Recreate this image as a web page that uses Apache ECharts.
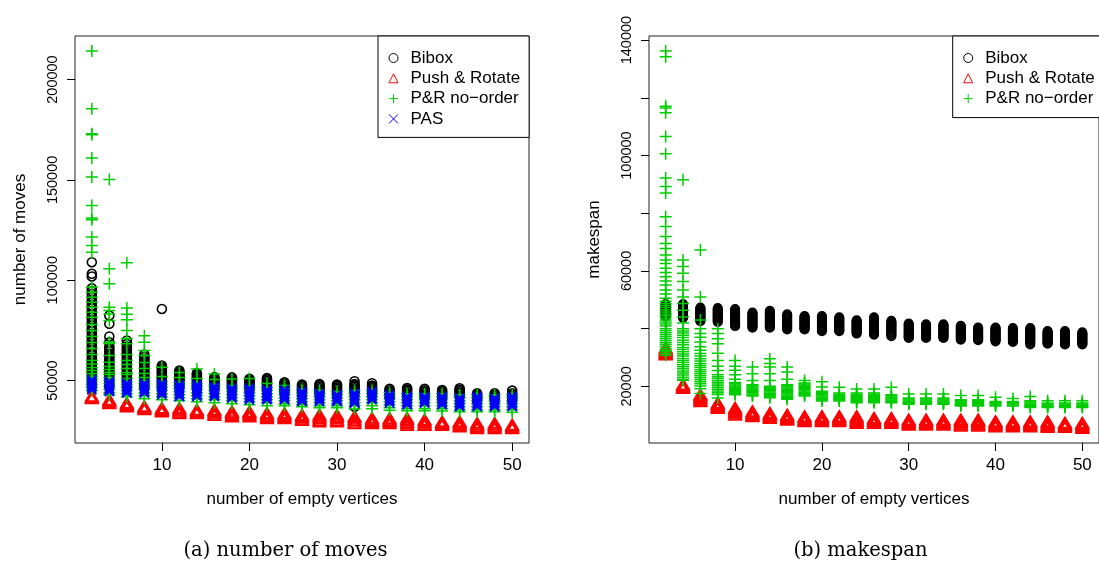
<!DOCTYPE html>
<html>
<head>
<meta charset="utf-8">
<script src="https://cdn.jsdelivr.net/npm/echarts@6/dist/echarts.min.js"></script>
<style>
html,body{margin:0;padding:0;background:#fff;}
#chart{width:1099px;height:563px;}
</style>
</head>
<body>
<div id="chart"></div>
<script>
// ---------- data ----------
const xs = [2,4,6,8,10,12,14,16,18,20,22,24,26,28,30,32,34,36,38,40,42,44,46,48,50];
const xTicks = [10,20,30,40,50];
const movesTicks = [50000,100000,150000,200000];
const spanTicks = [20000,40000,60000,80000,100000,120000,140000];
const spanLabels = [20000,60000,100000,140000];
const seriesNames = ['Bibox','Push & Rotate','P&R no\u2212order','PAS'];

// (a) number of moves
const movesBibox = [
 [109000,103200,101900,96000,94500,93200,91800,90200,88900,87400,86000,84500,83100,81600,80200,78800,77400,76000,74600,73300,71900,70500,69200,67900,66600,65300,64000,62800,61500,60300,59100,57900,56700,55500,54300,53100,51900,50700,49500,48300,47100],
 [82400,78300,72000,69100,67000,65800,64600,63500,62400,61300,60200,59100,58000,56900,55800,54700,53600,52500,51400,50300,49200,48100,47000],
 [70000,68200,67000,65900,64800,63700,62600,61500,60400,59300,58200,57100,56000,54900,53800,52700,51600,50500,49400,48300,47200],
 [63000,61900,60800,59700,58600,57500,56400,55300,54200,53100,52000,50900,49800,48700,47600,46500],
 [85700,57500,56700,55900,55100,54300,53500,52700,51900,51100,50300,49500,48700,47900,47100,46300],
 [55000,54300,53600,52900,52200,51500,50800,50100,49400,48700,48000,47300,46600],
 [53700,53000,52300,51600,50900,50200,49500,48800,48100,47400,46700,46000],
 [51700,51000,50300,49600,48900,48200,47500,46800,46100],
 [51600,50900,50200,49500,48800,48100,47400,46700,46000],
 [50900,50200,49500,48800,48100,47400,46700,46000,45300],
 [51300,50600,49900,49200,48500,47800,47100,46400,45700],
 [49200,48500,47800,47100,46400,45700,45000,44300],
 [48000,47300,46600,45900,45200,44500,43800],
 [48300,47600,46900,46200,45500,44800,44100,43400],
 [48000,47300,46600,45900,45200,44500,43800,43100],
 [49700,48300,47600,46900,46200,45500,44800,44100,43400,37000],
 [48700,47500,46800,46100,45400,44700,44000,43300],
 [45900,45200,44500,43800,43100,42400,41700],
 [46300,45600,44900,44200,43500,42800,42100],
 [45900,45200,44500,43800,43100,42400,41700],
 [45300,44600,43900,43200,42500,41800,41100],
 [46200,45400,44700,44000,43300,42600,41900],
 [43700,43000,42300,41600,40900,40200],
 [43700,43000,42300,41600,40900,40200],
 [45000,43700,43000,42300,41600,40900,40200]
];
const movesPushRotate = [
 [42300,41900,41500,41100],
 [40600,40200,39800,39400,39000,38650],
 [38950,38550,38150,37750,37350,36950],
 [37300,36900,36500,36100,35600],
 [36450,36050,35650,35250,34850,34450],
 [36450,35900,35350,34800,34200,33650],
 [35600,35200,34800,34400,34000,33650],
 [35600,35050,34500,33950,33350,32800],
 [34800,34250,33700,33150,32550,32000],
 [34750,34200,33650,33100,32500,31950],
 [33950,33400,32850,32300,31700,31150],
 [33900,33350,32800,32250,31650,31100],
 [33150,32600,32050,31450,30900,30300],
 [33150,32450,31750,31000,30250,29500],
 [33100,32400,31700,30950,30200,29500],
 [32300,31600,30850,30150,29400,28650],
 [31450,30900,30300,29750,29200,28650],
 [31400,30850,30250,29700,29150,28600],
 [31450,30750,30000,29300,28550,27800],
 [30650,30100,29500,28950,28400,27800],
 [29800,29400,29000,28600,28200,27800],
 [29800,29250,28650,28100,27550,27000],
 [28950,28400,27850,27250,26700,26150],
 [28950,28400,27850,27250,26700,26200],
 [28150,27750,27350,26950,26550,26150]
];
const movesNoOrder = [
 [214200,185500,173000,172500,160900,151400,137300,131000,130100,121500,117300,114000,96500,94000,91500,89000,86500,84000,81500,78000,75000,72000,69000,66000,63000,60000,58300,56500,55000,53500,52200,51000,49500,48000,46500,45000],
 [150200,105700,98200,86600,84900,83200,79900,69100,68500,62500,59100,57000,55500,54000,53000,51500,50000,48500,47000,45500,44000,43000],
 [108700,86200,83000,80300,74900,71000,68300,63000,60000,58000,56000,54000,53000,51000,49500,48000,46500,45000,43500,42000],
 [72400,69100,65000,62500,59000,56000,53500,51500,50000,48500,47000,45500,44000,42500,41000],
 [56600,52000,49500,48000,46500,45000,43500,42000,40500],
 [54000,51500,49000,47500,46000,44500,43000,41500,40000],
 [55800,51000,48500,47000,45500,44000,42500,41000,39500],
 [53300,50500,48000,46500,45000,43500,42000,40500,39000],
 [50800,47500,46000,44500,43000,41500,40000,38500],
 [51000,47000,45500,44000,42500,41000,39500,38000],
 [48500,46500,45000,43500,42000,40500,39000,37500],
 [47500,46000,44500,43000,41500,40000,38500,37500],
 [45500,44000,42500,41000,39500,38000,37000],
 [45000,43500,42000,40500,39000,37500,36500],
 [44500,43000,41500,40000,38500,37500,36500],
 [45000,43500,42000,40500,39000,37500,35900],
 [45000,43500,42000,40500,39000,37500,36000],
 [44000,42500,41000,39500,38000,36500,35200],
 [43500,42000,40500,39000,37500,36000,35000],
 [43500,42000,40500,39000,37500,36000,35000],
 [43500,42000,40500,39000,37500,36000,34800],
 [43000,41500,40000,38500,37000,35500,34500],
 [43000,41500,40000,38500,37000,35500,34500],
 [43000,41500,40000,38500,37000,35500,34500],
 [43000,41500,40000,38500,37000,35500,34200]
];
const movesPAS = [
 [50500,49900,49300,48700,48100,47500,46900,46300,45800,45300],
 [49700,49100,48500,47900,47300,46700,46100,45500,45000,44500],
 [48800,48200,47600,47000,46400,45800,45200,44700,44200,43700],
 [48800,48200,47600,47000,46400,45800,45200,44700,44200,43700],
 [48800,48200,47600,47000,46400,45800,45200,44600,44000,43400,42800],
 [48000,47400,46800,46200,45600,45000,44400,43800,43200,42600,42000],
 [48000,47400,46800,46200,45600,45000,44400,43800,43200,42600,42000],
 [47200,46600,46000,45400,44800,44200,43600,43000,42500,42000],
 [46300,45700,45100,44500,43900,43300,42700,42200,41700,41200],
 [46300,45700,45100,44500,43900,43300,42700,42100,41500,40900,40400],
 [45500,44900,44300,43700,43100,42500,41900,41400,40900,40400],
 [45500,44900,44300,43700,43100,42500,41900,41400,40900,40400],
 [44700,44100,43500,42900,42300,41700,41100,40500,40000,39500],
 [43800,43200,42600,42000,41400,40900,40400,39900,39500],
 [43000,42400,41800,41200,40700,40200,39800,39500],
 [43800,43200,42600,42000,41400,40800,40200,39700,39200,38700],
 [44700,44100,43500,42900,42300,41700,41100,40700,40400],
 [43000,42400,41800,41200,40600,40000,39500,39100,38700],
 [42200,41600,41000,40400,39800,39200,38700,38300,37900],
 [42200,41600,41000,40400,39800,39300,38900,38700],
 [42200,41600,41000,40400,39800,39200,38700,38300,37900],
 [41400,40800,40200,39600,39000,38400,37900,37400,37000],
 [42200,41600,41000,40400,39800,39200,38600,38000,37500,37000],
 [41400,40800,40200,39600,39000,38400,37900,37400,37000],
 [42200,41600,41000,40400,39800,39200,38600,38000,37500,37000]
];

// (b) makespan
const spanBibox = [
 [48500,48200,47900,47600,47300,47000,46700,46400,46100,45800,45500,45200,44900,44600,44300],
 [48500,48200,47900,47600,47300,47000,46700,46400,46100,45800,45500,45200,44900,44600,44300,44000,43750],
 [47300,47000,46700,46400,46100,45800,45500,45200,44900,44600,44300,44000,43700,43400,43100,42850,42600],
 [47100,46800,46500,46200,45900,45600,45300,45000,44700,44400,44100,43800,43500,43200,42900,42600,42300],
 [46800,46450,46100,45750,45400,45050,44700,44350,44000,43650,43300,42950,42600,42250,41900,41550,41200,40900],
 [45600,45250,44900,44550,44200,43850,43500,43150,42800,42450,42100,41750,41400,41050,40700,40300],
 [46200,45850,45500,45150,44800,44450,44100,43750,43400,43050,42700,42350,42000,41650,41300,40950,40600,40300],
 [45000,44650,44300,43950,43600,43250,42900,42550,42200,41850,41500,41150,40800,40450,40100,39700],
 [44400,44100,43800,43500,43200,42900,42600,42300,42000,41700,41400,41100,40800,40500,40200,39950,39700],
 [44400,44050,43700,43350,43000,42650,42300,41950,41600,41250,40900,40550,40200,39850,39500,39100],
 [43900,43600,43300,43000,42700,42400,42100,41800,41500,41200,40900,40600,40300,40000,39700,39400,39100],
 [42900,42600,42300,42000,41700,41400,41100,40800,40500,40200,39900,39600,39300,39000,38650,38300],
 [43900,43500,43150,42800,42450,42100,41750,41400,41050,40700,40350,40000,39650,39300,38950,38600,38250,37950],
 [42700,42350,42000,41650,41300,40950,40600,40250,39900,39550,39200,38850,38500,38150,37800,37400],
 [41800,41500,41150,40800,40450,40100,39750,39400,39050,38700,38350,38000,37650,37300,37000,36800],
 [41500,41200,40900,40600,40300,40000,39700,39400,39100,38800,38500,38200,37900,37600,37300,37000,36800],
 [41500,41200,40900,40600,40300,40000,39700,39400,39100,38800,38500,38200,37900,37600,37300,37000,36800],
 [41000,40700,40400,40100,39800,39500,39200,38900,38600,38300,38000,37700,37400,37100,36800,36500,36200],
 [40400,40100,39800,39500,39200,38900,38600,38300,38000,37700,37400,37100,36800,36500,36250,36000],
 [40400,40100,39800,39500,39200,38900,38600,38300,38000,37700,37400,37100,36800,36500,36200,35900,35600],
 [40200,39900,39600,39300,39000,38700,38400,38100,37800,37500,37200,36900,36600,36300,36000,35700,35400],
 [40200,39900,39600,39300,39000,38700,38400,38100,37800,37500,37200,36900,36600,36300,36000,35700,35400,35000,34500],
 [39200,38900,38600,38300,38000,37700,37400,37100,36800,36500,36200,35900,35600,35300,35050,34800],
 [39200,38900,38600,38300,38000,37700,37400,37100,36800,36500,36200,35900,35600,35300,35000,34750,34500],
 [38700,38400,38100,37800,37500,37200,36900,36600,36300,36000,35700,35400,35100,34800,34500]
];
const spanPushRotate = [
 [33500,33150,32800,32500,32150,31800,31450,31150,30950],
 [20750,20500,20250,20000,19800,19550,19350],
 [17250,16900,16550,16200,15850,15500,15100,14750],
 [14350,14100,13800,13500,13250,12950,12700,12450],
 [12650,12300,11950,11600,11200,10850,10450,10100],
 [11450,11200,10900,10650,10350,10100,9800,9550],
 [10900,10600,10300,10050,9750,9500,9200,8950],
 [10300,10000,9700,9450,9150,8900,8600,8350],
 [9750,9450,9200,8900,8650,8350,8100,7800],
 [9750,9450,9200,8900,8650,8350,8100,7800],
 [9750,9450,9200,8900,8650,8350,8100,7800],
 [9750,9400,9000,8650,8300,7950,7550,7200],
 [9150,8850,8600,8300,8050,7750,7500,7200],
 [9150,8850,8600,8300,8050,7750,7500,7200],
 [8600,8300,8050,7750,7500,7200,6950,6650],
 [8600,8300,8050,7750,7500,7200,6950,6650],
 [8600,8300,8050,7750,7500,7200,6950,6650],
 [8600,8250,7950,7600,7300,6950,6650,6300],
 [8600,8250,7950,7600,7300,6950,6650,6300],
 [8000,7700,7450,7150,6900,6600,6350,6050],
 [8000,7700,7450,7150,6900,6600,6350,6050],
 [8000,7700,7450,7150,6900,6600,6350,6050],
 [8000,7700,7400,7050,6750,6450,6150,5850],
 [7450,7200,7000,6750,6550,6300,6100,5850],
 [7450,7150,6900,6600,6350,6050,5800,5500]
];
const spanNoOrder = [
 [136200,134200,117100,116500,114800,106600,100600,92200,89300,87000,78800,75400,71900,69500,67800,65500,63800,62600,60900,59500,58000,56500,55100,53400,52000,50500,49500,48700,48000,47300,46500,45800,45100,44500,43700,43000,42300,41600,40900,40000,39300,38600,37900,37200,36500,35800,35100,34500,33800,33100,32500,32000,31400,30800],
 [91600,63800,61500,59200,56300,53400,51000,48700,46400,44000,42000,40000,39200,38500,37700,36900,36000,35200,34400,33500,32800,32000,31200,30500,29700,29000,28300,27500,26800,26100,25300,24600,23900,23200,22500,22100],
 [67300,51000,43000,40000,38300,37000,35400,33700,32500,31400,30500,29600,28800,27900,27200,26500,25800,25100,24400,23700,23000,22300,21600,20900,20100,19200,17500],
 [40000,38300,36500,34800,31500,29000,27000,25500,24000,23300,22700,22000,21400,20800,20200,19600,19000,18400,17800,17200,16000],
 [29000,27000,25600,24000,22500,21300,20900,20500,20100,19700,19300,18900,18500,18100,17750,17450,17100],
 [26700,24400,22000,20600,20200,19800,19400,19000,18600,18200,17800,17400,17000,16700],
 [29600,27900,26700,24400,22000,20000,19650,19250,18850,18450,18050,17650,17250,16850,16400,16100],
 [26700,25000,22500,20600,20200,19800,19400,19000,18600,18200,17800,17400,17000,16600,16200,15800,15500],
 [22000,21200,20800,20400,20000,19600,19200,18800,18400,18000,17600,17300,17000,16700],
 [21600,19800,18300,17900,17500,17100,16700,16300,15900,15550,15250,14950],
 [19700,17700,17350,16950,16550,16200,15850,15550,15250,14950],
 [19100,17700,17350,16950,16550,16150,15750,15400,15050,14650,14350],
 [19100,17700,17350,16950,16550,16150,15750,15400,15050,14650,14350],
 [19700,17100,16750,16350,15950,15600,15250,14950,14650,14350],
 [17350,15950,15600,15250,14900,14600,14350,14100,13800],
 [17350,15950,15600,15250,14900,14600,14350,14100,13800],
 [17350,15950,15600,15250,14900,14600,14350,14100,13800],
 [16800,15350,15000,14650,14300,14000,13750,13500,13200],
 [16800,15350,15000,14650,14300,14000,13750,13500,13200],
 [16200,14800,14450,14150,13850,13500,13200],
 [15800,14800,14450,14150,13850,13500,13200],
 [16500,15000,14600,14200,13800,13400,12950,12650],
 [15000,14200,13850,13550,13250,12950,12650],
 [15000,14200,13850,13550,13250,12950,12650],
 [15000,14200,13850,13550,13250,12950,12650]
];

// ---------- chart ----------
function pts(cols){ const out=[]; cols.forEach((col,i)=>col.forEach(v=>out.push([xs[i],v]))); return out; }

const SANS = 'Liberation Sans';
const PLUS = 'path://M0 5L10 5M5 0L5 10';
const CROSS = 'path://M0 0L10 10M10 0L0 10';
const COL = {bibox:'#000000', pr:'#ff0000', no:'#00cd00', pas:'#0000ff'};
const CLEAR = 'rgba(0,0,0,0)';

function sc(name, data, xi, symbol, size, color, lw){
  return {type:'scatter', name, data: pts(data), xAxisIndex:xi, yAxisIndex:xi,
    symbol, symbolSize:size, large:false, silent:true, animation:false,
    itemStyle:{color:CLEAR, borderColor:color, borderWidth:lw, opacity:1},
    emphasis:{disabled:true}};
}

function xAx(gi){
  return {type:'value', gridIndex:gi, min:0.08, max:51.92,
    axisLine:{show:false, onZero:false},
    axisTick:{show:true, length:8, customValues:xTicks, lineStyle:{color:'#000', width:1}},
    axisLabel:{show:true, customValues:xTicks, margin:14, fontFamily:SANS, fontSize:17, color:'#000', formatter:v=>String(v)},
    splitLine:{show:false},
    name:'number of empty vertices', nameLocation:'middle', nameGap:48,
    nameTextStyle:{fontFamily:SANS, fontSize:17, color:'#000'}};
}
function yAx(gi, min, max, ticks, labels, name){
  return {type:'value', gridIndex:gi, min, max,
    axisLine:{show:false, onZero:false},
    axisTick:{show:true, length:8, customValues:ticks, lineStyle:{color:'#000', width:1}},
    axisLabel:{show:true, customValues:labels, rotate:90, margin:15, fontFamily:SANS, fontSize:14.5, color:'#000', formatter:v=>String(v)},
    splitLine:{show:false},
    name, nameLocation:'middle', nameGap:46, nameRotate:90,
    nameTextStyle:{fontFamily:SANS, fontSize:17, color:'#000'}};
}

const legendItems = [
  {name:seriesNames[0], icon:'circle', itemStyle:{color:CLEAR, borderColor:COL.bibox, borderWidth:1}},
  {name:seriesNames[1], icon:'triangle', itemStyle:{color:CLEAR, borderColor:COL.pr, borderWidth:1}},
  {name:seriesNames[2], icon:PLUS, itemStyle:{color:CLEAR, borderColor:COL.no, borderWidth:1}},
  {name:seriesNames[3], icon:CROSS, itemStyle:{color:CLEAR, borderColor:COL.pas, borderWidth:1}}
];
function leg(left, items, padTop, padBottom){
  return {orient:'vertical', left, top:36, padding:[padTop,9,padBottom,10.5], itemGap:0.3,
    itemWidth:9, itemHeight:9, borderColor:'#000', borderWidth:1, backgroundColor:'#fff',
    selectedMode:false, z:10,
    textStyle:{fontFamily:SANS, fontSize:17, color:'#000', lineHeight:20, padding:[0,0,0,7.5]},
    data:items};
}

const chart = echarts.init(document.getElementById('chart'), null, {renderer:'canvas'});
chart.setOption({
  animation:false,
  backgroundColor:'#fff',
  grid:[
    {left:75, top:36, width:454, height:407, show:true, borderColor:'#222', borderWidth:1, backgroundColor:CLEAR},
    {left:649, top:36, width:455, height:407, show:true, borderColor:'#222', borderWidth:1, backgroundColor:CLEAR}
  ],
  xAxis:[xAx(0), xAx(1)],
  yAxis:[
    yAx(0, 18900, 221700, movesTicks, movesTicks, 'number of moves'),
    yAx(1, 376, 141420, spanTicks, spanLabels, 'makespan')
  ],
  legend:[leg(378, legendItems, 12, 8.5), leg(952.7, legendItems.slice(0,3), 12, 9)],
  series:[
    sc(seriesNames[0], movesBibox, 0, 'circle', 9, COL.bibox, 1.6),
    sc(seriesNames[1], movesPushRotate, 0, 'triangle', [12,10], COL.pr, 1.7),
    sc(seriesNames[2], movesNoOrder, 0, PLUS, 12, COL.no, 1.5),
    sc(seriesNames[3], movesPAS, 0, CROSS, 9, COL.pas, 1.5),
    sc(seriesNames[0], spanBibox, 1, 'circle', 8.5, COL.bibox, 1.6),
    sc(seriesNames[1], spanPushRotate, 1, 'triangle', [12,10], COL.pr, 1.7),
    sc(seriesNames[2], spanNoOrder, 1, PLUS, 12, COL.no, 1.5)
  ],
  graphic:[
    {type:'text', x:285.5, y:551, silent:true, style:{text:'(a) number of moves', fontFamily:'DejaVu Serif', fontSize:19.5, fill:'#000', align:'center', verticalAlign:'middle'}},
    {type:'text', x:860.5, y:551, silent:true, style:{text:'(b) makespan', fontFamily:'DejaVu Serif', fontSize:19.5, fill:'#000', align:'center', verticalAlign:'middle'}}
  ]
});
</script>
</body>
</html>
